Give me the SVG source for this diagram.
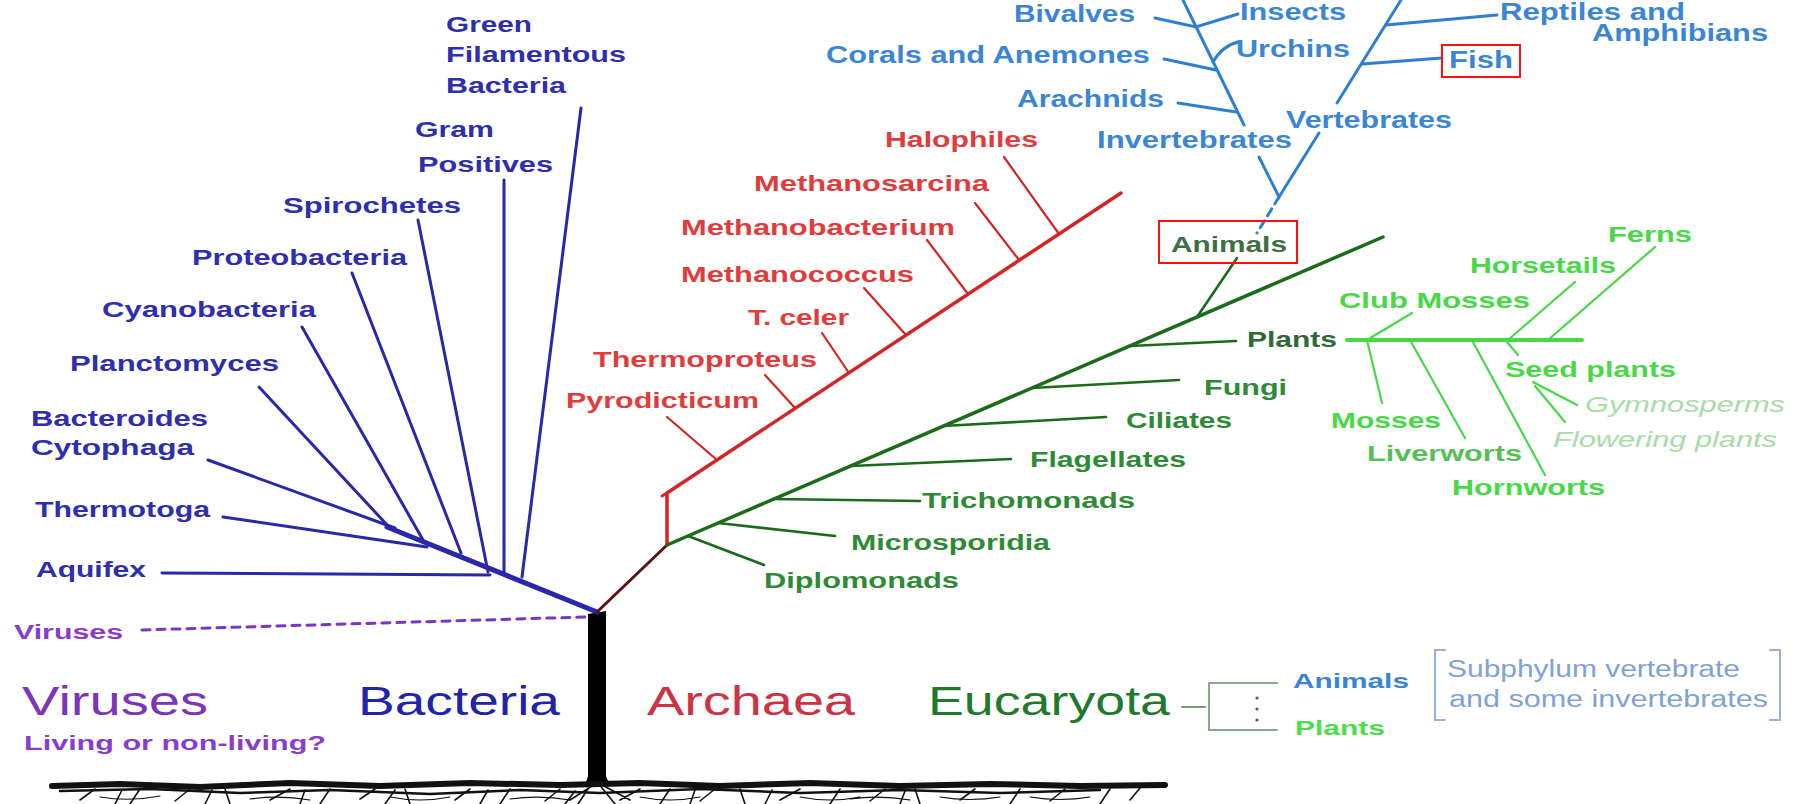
<svg xmlns="http://www.w3.org/2000/svg" width="1802" height="804" viewBox="0 0 1802 804">
<style>
text{font-family:"Liberation Sans",Arial,sans-serif;font-weight:bold;font-size:22px}
.bac{fill:#2e2eae}
.vir{fill:#8a3ccc}
.arc{fill:#e03c3c}
.euk{fill:#2e8a36}
.ani{fill:#3b86d4;font-size:23px}
.pla{fill:#48d848}
.ital{font-style:italic;font-weight:normal;fill:#a8dca8}
.big{font-weight:normal;font-size:40px}
.sub{font-weight:normal;font-size:23px;fill:#7fa3d6}
.ln{fill:none;stroke-linecap:round}
.lb{stroke:#2828a8;stroke-width:3}
.lr{stroke:#d42424;stroke-width:2.2}
.lg{stroke:#1b6b1b;stroke-width:2.6}
.la{stroke:#2f7fd0;stroke-width:3}
.lp{stroke:#46d846;stroke-width:2.2}
.box{fill:none;stroke:#ff1010;stroke-width:2}
.gr{fill:none;stroke:#111;stroke-linecap:round}
</style>

<g id="connectors">
  <!-- trunk -->
  <path d="M588,614 L606,611 L606,776 Q608,783 614,786 L582,786 Q587,782 588,776 Z" fill="#000"/>
  <!-- bacteria -->
  <path class="ln lb" style="stroke-width:5" d="M597,612 L387,527"/>
  <path class="ln lb" d="M162,573 L490,575"/>
  <path class="ln lb" d="M223,517 L427,547"/>
  <path class="ln lb" d="M208,460 L395,528"/>
  <path class="ln lb" d="M259,387 L389,527"/>
  <path class="ln lb" d="M302,327 L423,540"/>
  <path class="ln lb" d="M352,273 L461,553"/>
  <path class="ln lb" d="M418,220 L488,572"/>
  <path class="ln lb" d="M504,180 L504,573"/>
  <path class="ln lb" d="M581,108 L522,577"/>
  <!-- viruses -->
  <path class="ln" d="M142,630 L585,617" stroke="#7a35c8" stroke-width="3" stroke-dasharray="8 7"/>
  <!-- archaea -->
  <path class="ln" d="M597,612 L667,545" stroke="#5a1212" stroke-width="3"/>
  <path class="ln" d="M667,545 L667,493 L1121,193" stroke="#d42424" stroke-width="3.5"/>
  <path class="ln" d="M662,496 L667,493" stroke="#d42424" stroke-width="3"/>
  <path class="ln lr" d="M667,417 L717,460"/>
  <path class="ln lr" d="M765,375 L795,408"/>
  <path class="ln lr" d="M822,333 L849,373"/>
  <path class="ln lr" d="M864,288 L906,335"/>
  <path class="ln lr" d="M927,240 L968,294"/>
  <path class="ln lr" d="M975,203 L1019,260"/>
  <path class="ln lr" d="M1004,157 L1059,234"/>
  <!-- eucaryota -->
  <path class="ln" d="M667,545 L1383,237" stroke="#1b6b1b" stroke-width="3.5"/>
  <path class="ln lg" d="M1197,317 L1237,258"/>
  <path class="ln lg" d="M1130,346 L1236,341"/>
  <path class="ln lg" d="M1032,388 L1179,380"/>
  <path class="ln lg" d="M943,426 L1106,417"/>
  <path class="ln lg" d="M851,466 L1011,459"/>
  <path class="ln lg" d="M773,499 L920,501"/>
  <path class="ln lg" d="M718,523 L835,536"/>
  <path class="ln lg" d="M688,536 L764,565"/>
  <!-- animals -->
  <path class="ln la" d="M1183,0 L1244,125 M1259,157 L1279,197 L1319,133 M1337,103 L1401,0"/>
  <path class="ln la" d="M1279,197 L1257,233" stroke-dasharray="8 6" stroke-linecap="butt"/>
  <path class="ln la" d="M1155,18 L1196,27 L1238,14"/>
  <path class="ln la" d="M1164,59 L1216,70"/>
  <path class="ln la" d="M1213,62 Q1222,46 1238,42"/>
  <path class="ln la" d="M1178,103 L1236,112"/>
  <path class="ln la" d="M1386,25 L1497,15"/>
  <path class="ln la" d="M1362,64 L1442,58"/>
  <!-- plants -->
  <path class="ln lp" style="stroke-width:4" d="M1347,340 L1582,340"/>
  <path class="ln lp" d="M1367,340 L1412,313"/>
  <path class="ln lp" d="M1508,340 L1575,282"/>
  <path class="ln lp" d="M1548,340 L1655,247"/>
  <path class="ln lp" d="M1367,340 L1382,403"/>
  <path class="ln lp" d="M1410,340 L1465,438"/>
  <path class="ln lp" d="M1473,342 L1545,475"/>
  <path class="ln lp" d="M1507,342 L1518,355"/>
  <path class="ln lp" d="M1533,382 L1577,405"/>
  <path class="ln lp" d="M1535,386 L1565,422"/>
  <!-- legend bracket -->
  <path class="ln" d="M1182,707 L1205,707" stroke="#7a9a7a" stroke-width="2"/>
  <path class="ln" d="M1277,683 H1209 V730 H1277" stroke="#8aa88a" stroke-width="2"/>
  <circle cx="1257" cy="698" r="1.6" fill="#555"/>
  <circle cx="1257" cy="709" r="1.6" fill="#555"/>
  <circle cx="1257" cy="720" r="1.6" fill="#555"/>
  <path class="ln" d="M1445,650 H1435 V720 H1445" stroke="#99b0d0" stroke-width="2"/>
  <path class="ln" d="M1770,650 H1780 V720 H1770" stroke="#99b0d0" stroke-width="2"/>
</g>

<g id="ground">
  <path class="gr" stroke-width="6" d="M52,786 L120,784 L200,787 L290,783 L380,786 L470,783 L560,785 L640,783 L720,786 L810,783 L900,786 L990,784 L1080,786 L1165,785"/>
  <path class="gr" stroke-width="2.5" stroke="#333" d="M60,791 L150,789 L240,793 L330,790 L430,794 L520,790 L600,793 L700,789 L800,793 L900,790 L1000,793 L1100,790"/>
  <path class="gr" stroke-width="1.6" stroke="#555" d="M80,800 L95,789 M115,804 L122,790 M130,804 L140,789 M175,801 L190,789 M205,804 L212,790 M230,804 L225,789 M270,800 L290,789 M300,804 L305,790 M320,804 L330,789 M360,799 L375,789 M385,804 L395,790 M410,804 L405,789 M455,800 L470,789 M480,804 L488,790 M500,804 L510,789 M545,801 L560,789 M565,804 L575,791 M578,804 L592,783 M598,783 L615,804 M592,786 L570,800 M604,786 L630,800 M620,800 L640,789 M660,804 L670,789 M690,804 L695,790 M700,801 L715,789 M745,804 L740,789 M765,804 L772,790 M780,800 L800,789 M830,804 L840,789 M870,801 L885,789 M900,804 L905,791 M920,804 L915,789 M960,800 L975,789 M1010,804 L1020,789 M1050,801 L1065,789 M1100,804 L1110,789 M1130,800 L1140,788"/>
  <path class="gr" stroke-width="1.2" stroke="#777" d="M100,797 Q130,802 160,796 M250,799 Q280,795 310,800 M390,797 Q420,803 450,797 M510,799 Q540,795 570,800 M640,797 Q670,803 700,797 M800,797 Q830,803 860,797 M850,799 Q880,795 910,800 M940,797 Q970,802 1000,797 M1030,797 Q1060,802 1090,797"/>
</g>

<g id="bacteria-labels">
  <g id="n-green"><text class="bac" x="446" y="32" textLength="86" lengthAdjust="spacingAndGlyphs">Green</text>
  <text class="bac" x="446" y="62" textLength="180" lengthAdjust="spacingAndGlyphs">Filamentous</text>
  <text class="bac" x="446" y="93" textLength="120" lengthAdjust="spacingAndGlyphs">Bacteria</text></g>
  <g id="n-gram"><text class="bac" x="415" y="137" textLength="79" lengthAdjust="spacingAndGlyphs">Gram</text>
  <text class="bac" x="418" y="172" textLength="135" lengthAdjust="spacingAndGlyphs">Positives</text></g>
  <g id="n-spiro"><text class="bac" x="283" y="213" textLength="178" lengthAdjust="spacingAndGlyphs">Spirochetes</text></g>
  <g id="n-proteo"><text class="bac" x="192" y="265" textLength="215" lengthAdjust="spacingAndGlyphs">Proteobacteria</text></g>
  <g id="n-cyano"><text class="bac" x="102" y="317" textLength="214" lengthAdjust="spacingAndGlyphs">Cyanobacteria</text></g>
  <g id="n-plancto"><text class="bac" x="70" y="371" textLength="209" lengthAdjust="spacingAndGlyphs">Planctomyces</text></g>
  <g id="n-bactero"><text class="bac" x="31" y="426" textLength="177" lengthAdjust="spacingAndGlyphs">Bacteroides</text>
  <text class="bac" x="31" y="455" textLength="163" lengthAdjust="spacingAndGlyphs">Cytophaga</text></g>
  <g id="n-thermotoga"><text class="bac" x="35" y="517" textLength="175" lengthAdjust="spacingAndGlyphs">Thermotoga</text></g>
  <g id="n-aquifex"><text class="bac" x="36" y="577" textLength="110" lengthAdjust="spacingAndGlyphs">Aquifex</text></g>
</g>

<g id="n-viruses-small"><text class="vir" style="font-size:20px" x="14" y="639" textLength="109" lengthAdjust="spacingAndGlyphs">Viruses</text></g>
<g id="n-viruses"><text class="big" fill="#7a35b8" x="22" y="715" textLength="186" lengthAdjust="spacingAndGlyphs">Viruses</text>
<text class="vir" style="font-size:21px" x="24" y="750" textLength="302" lengthAdjust="spacingAndGlyphs">Living or non-living?</text></g>
<g id="n-bacteria"><text class="big" fill="#2222aa" x="358" y="715" textLength="202" lengthAdjust="spacingAndGlyphs">Bacteria</text></g>
<g id="n-archaea"><text class="big" fill="#cc3344" x="647" y="715" textLength="208" lengthAdjust="spacingAndGlyphs">Archaea</text></g>
<g id="n-eucaryota"><text class="big" fill="#1f7a2e" x="928" y="715" textLength="242" lengthAdjust="spacingAndGlyphs">Eucaryota</text></g>

<g id="archaea-labels">
  <g id="n-halo"><text class="arc" x="885" y="147" textLength="153" lengthAdjust="spacingAndGlyphs">Halophiles</text></g>
  <g id="n-msarcina"><text class="arc" x="754" y="191" textLength="235" lengthAdjust="spacingAndGlyphs">Methanosarcina</text></g>
  <g id="n-mbact"><text class="arc" x="681" y="235" textLength="274" lengthAdjust="spacingAndGlyphs">Methanobacterium</text></g>
  <g id="n-mcoccus"><text class="arc" x="681" y="282" textLength="233" lengthAdjust="spacingAndGlyphs">Methanococcus</text></g>
  <g id="n-tceler"><text class="arc" x="748" y="325" textLength="101" lengthAdjust="spacingAndGlyphs">T. celer</text></g>
  <g id="n-thermoprot"><text class="arc" x="593" y="367" textLength="224" lengthAdjust="spacingAndGlyphs">Thermoproteus</text></g>
  <g id="n-pyro"><text class="arc" x="566" y="408" textLength="193" lengthAdjust="spacingAndGlyphs">Pyrodicticum</text></g>
</g>

<g id="eucaryota-labels">
  <g id="n-animals"><rect class="box" x="1159" y="221" width="138" height="42"/>
  <text fill="#3d6e45" x="1171" y="252" textLength="116" lengthAdjust="spacingAndGlyphs">Animals</text></g>
  <g id="n-plants"><text fill="#2d6b35" x="1247" y="347" textLength="90" lengthAdjust="spacingAndGlyphs">Plants</text></g>
  <g id="n-fungi"><text class="euk" x="1204" y="395" textLength="83" lengthAdjust="spacingAndGlyphs">Fungi</text></g>
  <g id="n-ciliates"><text class="euk" x="1126" y="428" textLength="106" lengthAdjust="spacingAndGlyphs">Ciliates</text></g>
  <g id="n-flag"><text class="euk" x="1030" y="467" textLength="156" lengthAdjust="spacingAndGlyphs">Flagellates</text></g>
  <g id="n-tricho"><text class="euk" x="922" y="508" textLength="213" lengthAdjust="spacingAndGlyphs">Trichomonads</text></g>
  <g id="n-micro"><text class="euk" x="851" y="550" textLength="199" lengthAdjust="spacingAndGlyphs">Microsporidia</text></g>
  <g id="n-diplo"><text class="euk" x="764" y="588" textLength="195" lengthAdjust="spacingAndGlyphs">Diplomonads</text></g>
</g>

<g id="plant-labels">
  <g id="n-ferns"><text class="pla" x="1608" y="242" textLength="84" lengthAdjust="spacingAndGlyphs">Ferns</text></g>
  <g id="n-horsetails"><text class="pla" x="1470" y="273" textLength="146" lengthAdjust="spacingAndGlyphs">Horsetails</text></g>
  <g id="n-clubmosses"><text class="pla" x="1339" y="308" textLength="191" lengthAdjust="spacingAndGlyphs">Club Mosses</text></g>
  <g id="n-seed"><text class="pla" x="1505" y="377" textLength="171" lengthAdjust="spacingAndGlyphs">Seed plants</text></g>
  <g id="n-mosses"><text class="pla" x="1331" y="428" textLength="110" lengthAdjust="spacingAndGlyphs">Mosses</text></g>
  <g id="n-liver"><text class="pla" style="fill:#55c055" x="1367" y="461" textLength="155" lengthAdjust="spacingAndGlyphs">Liverworts</text></g>
  <g id="n-horn"><text class="pla" x="1452" y="495" textLength="153" lengthAdjust="spacingAndGlyphs">Hornworts</text></g>
  <g id="n-gymno"><text class="ital" x="1585" y="412" textLength="200" lengthAdjust="spacingAndGlyphs">Gymnosperms</text></g>
  <g id="n-flower"><text class="ital" x="1553" y="447" textLength="224" lengthAdjust="spacingAndGlyphs">Flowering plants</text></g>
</g>

<g id="animal-labels">
  <g id="n-bivalves"><text class="ani" x="1014" y="22" textLength="121" lengthAdjust="spacingAndGlyphs">Bivalves</text></g>
  <g id="n-insects"><text class="ani" x="1240" y="20" textLength="106" lengthAdjust="spacingAndGlyphs">Insects</text></g>
  <g id="n-reptiles"><text class="ani" x="1500" y="20" textLength="185" lengthAdjust="spacingAndGlyphs">Reptiles and</text>
  <text class="ani" x="1592" y="41" textLength="176" lengthAdjust="spacingAndGlyphs">Amphibians</text></g>
  <g id="n-corals"><text class="ani" x="826" y="63" textLength="324" lengthAdjust="spacingAndGlyphs">Corals and Anemones</text></g>
  <g id="n-urchins"><text class="ani" x="1236" y="57" textLength="114" lengthAdjust="spacingAndGlyphs">Urchins</text></g>
  <g id="n-fish"><rect class="box" x="1442" y="45" width="78" height="32"/>
  <text class="ani" x="1449" y="68" textLength="64" lengthAdjust="spacingAndGlyphs">Fish</text></g>
  <g id="n-arachnids"><text class="ani" x="1017" y="107" textLength="147" lengthAdjust="spacingAndGlyphs">Arachnids</text></g>
  <g id="n-vertebrates"><text class="ani" x="1286" y="128" textLength="166" lengthAdjust="spacingAndGlyphs">Vertebrates</text></g>
  <g id="n-invertebrates"><text class="ani" x="1097" y="148" textLength="195" lengthAdjust="spacingAndGlyphs">Invertebrates</text></g>
</g>

<g id="legend">
  <g id="n-leg-animals"><text class="ani" style="font-size:21px" x="1293" y="688" textLength="116" lengthAdjust="spacingAndGlyphs">Animals</text></g>
  <g id="n-leg-plants"><text style="font-size:21px;fill:#4ddd4d" x="1295" y="735" textLength="90" lengthAdjust="spacingAndGlyphs">Plants</text></g>
  <g id="n-leg-note"><text class="sub" x="1447" y="677" textLength="293" lengthAdjust="spacingAndGlyphs">Subphylum vertebrate</text>
  <text class="sub" x="1449" y="707" textLength="319" lengthAdjust="spacingAndGlyphs">and some invertebrates</text></g>
</g>
</svg>
